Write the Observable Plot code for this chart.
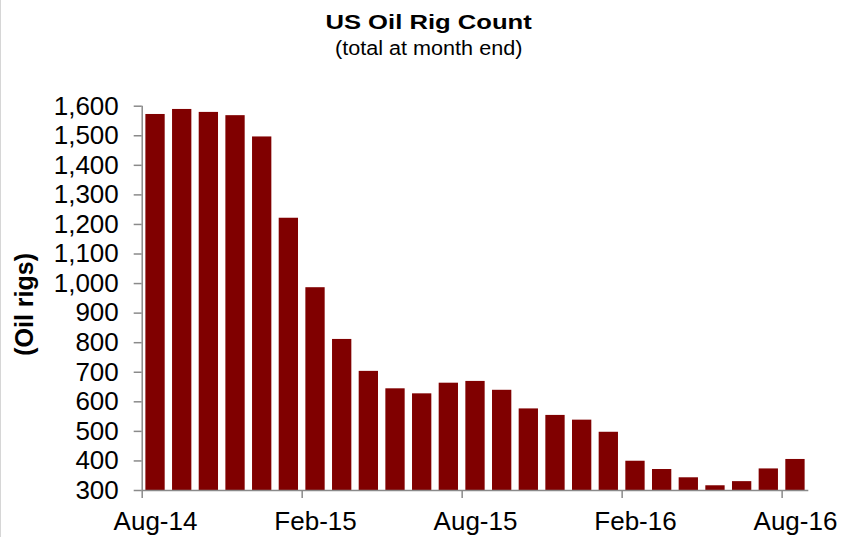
<!DOCTYPE html>
<html>
<head>
<meta charset="utf-8">
<script src="https://cdn.jsdelivr.net/npm/d3@7"></script>
<script src="https://cdn.jsdelivr.net/npm/@observablehq/plot@0.6"></script>
<style>
  html, body { margin: 0; padding: 0; background: #fff; }
  body { font-family: "Liberation Sans", Arial, sans-serif; color: #000; }
  #wrap { position: relative; width: 849px; height: 537px; overflow: hidden; }
  #edge { position: absolute; left: 0; top: 0; width: 1px; height: 537px; background: #d6d6d6; }
  #head { position: relative; height: 70px; }
  .hl { position: absolute; left: 4px; width: 849px; text-align: center; line-height: 1; white-space: nowrap; }
  .hl span { display: inline-block; }
  #title { top: 10.5px; font-size: 21px; font-weight: bold; }
  #title span { transform: scaleX(1.22); }
  #subtitle { top: 38px; font-size: 20px; }
  #subtitle span { transform: scaleX(1.08); }
  #chart svg { display: block; }
</style>
</head>
<body>
<div id="wrap">
  <div id="edge"></div>
  <div id="head">
    <div class="hl" id="title"><span></span></div>
    <div class="hl" id="subtitle"><span></span></div>
  </div>
  <div id="chart"></div>
</div>
<script>
// ---- Data ----
const titleText = "US Oil Rig Count";
const subtitleText = "(total at month end)";
const yLabel = "(Oil rigs)";

const months = ["Aug-14","Sep-14","Oct-14","Nov-14","Dec-14","Jan-15","Feb-15","Mar-15","Apr-15",
  "May-15","Jun-15","Jul-15","Aug-15","Sep-15","Oct-15","Nov-15","Dec-15","Jan-16","Feb-16",
  "Mar-16","Apr-16","May-16","Jun-16","Jul-16","Aug-16"];
const rigs = [1572,1589,1579,1568,1496,1221,986,811,703,644,627,663,669,639,576,554,538,497,399,
  371,343,316,330,373,405];
const yTicks = [300,400,500,600,700,800,900,1000,1100,1200,1300,1400,1500,1600];
const xTickLabels = ["Aug-14","Feb-15","Aug-15","Feb-16","Aug-16"];

const data = months.map((m, i) => ({month: m, rigs: rigs[i]}));

document.querySelector("#title span").textContent = titleText;
document.querySelector("#subtitle span").textContent = subtitleText;

// ---- Layout ----
const W = 849, H = 467, ML = 141.7, MR = 40.7, MT = 35.7, MB = 47;
const step = (W - ML - MR) / months.length;
const axisColor = "#8a8a8a";

const chart = Plot.plot({
  width: W, height: H,
  marginLeft: ML, marginRight: MR, marginTop: MT, marginBottom: MB,
  style: {fontFamily: '"Liberation Sans", Arial, sans-serif', fontSize: "26px", color: "#000", background: "transparent", overflow: "visible"},
  x: {type: "band", domain: months, paddingInner: 0.276, paddingOuter: 0.138, round: false, axis: null},
  y: {domain: [300, 1600], axis: null},
  marks: [
    Plot.barY(data, {x: "month", y1: 300, y2: "rigs", fill: "#800000"}),
    Plot.ruleY([300], {stroke: axisColor, strokeWidth: 1.5}),
    Plot.ruleX([months[0]], {y1: 300, y2: 1600, dx: -step / 2, stroke: axisColor, strokeWidth: 1.5}),
    Plot.axisY({ticks: yTicks, tickSize: 8, tickPadding: 15.4, tickFormat: d3.format(","),
      stroke: axisColor, strokeWidth: 1.5, label: null, fontSize: 26}),
    Plot.axisX({ticks: xTickLabels, tickSize: 8, tickFormat: () => "", dx: -step / 2,
      stroke: axisColor, strokeWidth: 1.5, label: null}),
    Plot.axisX({ticks: xTickLabels, tickSize: 0, tickPadding: 21.5, label: null, fontSize: 26}),
    Plot.text([yLabel], {text: d => d, frameAnchor: "left", dx: -117.7, dy: 6, rotate: -90,
      fontWeight: "bold", fontSize: 25, textAnchor: "middle", lineAnchor: "middle"})
  ]
});
document.getElementById("chart").appendChild(chart);
</script>
</body>
</html>
